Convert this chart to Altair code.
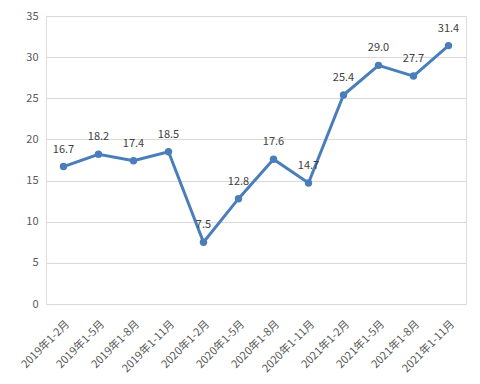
import altair as alt
import pandas as pd

periods = ["2019年1-2月", "2019年1-5月", "2019年1-8月", "2019年1-11月",
           "2020年1-2月", "2020年1-5月", "2020年1-8月", "2020年1-11月",
           "2021年1-2月", "2021年1-5月", "2021年1-8月", "2021年1-11月"]
values = [16.7, 18.2, 17.4, 18.5, 7.5, 12.8, 17.6, 14.7, 25.4, 29.0, 27.7, 31.4]

df = pd.DataFrame({"period": periods, "value": values})
FONT = "Noto Sans CJK SC"
BLUE = "#4a7ebb"

x = alt.X("period:N", sort=periods, title=None,
          scale=alt.Scale(paddingInner=0, paddingOuter=0.5),
          axis=alt.Axis(labelAngle=-45, labelAlign="right", labelBaseline="middle",
                        labelPadding=18, labelOffset=4, ticks=False, domain=False,
                        labelColor="#595959", labelFont=FONT, labelFontSize=11,
                        grid=False))
y = alt.Y("value:Q", title=None,
          scale=alt.Scale(domain=[0, 35], nice=False),
          axis=alt.Axis(values=list(range(0, 36, 5)), ticks=False, domain=False,
                        labelColor="#595959", labelFont=FONT, labelFontSize=11,
                        labelPadding=8, gridColor="#d9d9d9", gridWidth=1,
                        minExtent=30, maxExtent=30))

base = alt.Chart(df).encode(x=x, y=y)
line = base.mark_line(color=BLUE, strokeWidth=3)
pts = base.mark_point(filled=True, color=BLUE, size=55, opacity=1)
txt = base.mark_text(dy=-17, font=FONT, fontSize=11, color="#404040").encode(
    text=alt.Text("value:Q", format=".1f"))

chart = (line + pts + txt).properties(
    width=420, height=288,
    autosize=alt.AutoSizeParams(type="none"),
    padding={"left": 38, "top": 8, "right": 6, "bottom": 72},
).configure_view(stroke=None).configure(background="white")

chart.save("out.html", embed_options={"renderer": "svg", "actions": False})
